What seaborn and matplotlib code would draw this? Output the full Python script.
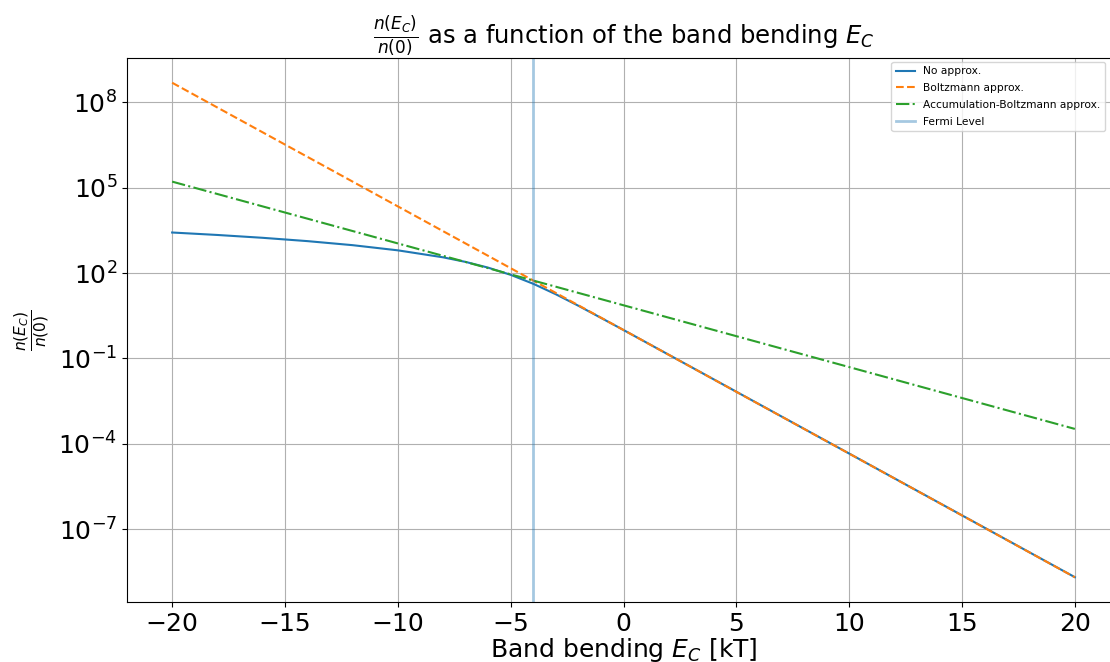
import matplotlib
matplotlib.use("Agg")
import matplotlib.pyplot as plt
import seaborn as sns
import numpy as np
import pandas as pd

# Band bending values (kT) and read-off ratios n(E_C)/n(0)
e_no_approx = [-20, -18, -16, -14, -12, -10, -8, -7, -6, -5, -4, -3, -2, -1, 0, 5, 10, 15, 20]
n_no_approx = [2658, 2179, 1733, 1323, 953.4, 628.4, 357.7, 246.6, 155.2, 86.58, 42.04,
               18.01, 7.105, 2.674, 1.0, 6.782e-3, 4.569e-5, 3.079e-7, 2.074e-9]

e_boltz = [-20, -10, 0, 10, 20]
n_boltz = [4.85e8, 2.20e4, 1.0, 4.54e-5, 2.06e-9]

e_accum = [-20, -10, 0, 10, 20]
n_accum = [1.63e5, 1.10e3, 7.39, 4.98e-2, 3.35e-4]

fermi_level = -4

x_ticks = [-20, -15, -10, -5, 0, 5, 10, 15, 20]

fig = plt.figure(figsize=(11.10, 6.62), dpi=100)
ax = fig.add_axes([127/1110, (662-602)/662, (1120-127)/1110, (602-58)/662])

df_no = pd.DataFrame({"E": e_no_approx, "n": n_no_approx})
df_b = pd.DataFrame({"E": e_boltz, "n": n_boltz})
df_a = pd.DataFrame({"E": e_accum, "n": n_accum})

sns.lineplot(data=df_no, x="E", y="n", ax=ax, color="C0", lw=1.5, label="No approx.")
sns.lineplot(data=df_b, x="E", y="n", ax=ax, color="C1", lw=1.5, linestyle="--", label="Boltzmann approx.")
sns.lineplot(data=df_a, x="E", y="n", ax=ax, color="C2", lw=1.5, linestyle="-.", label="Accumulation-Boltzmann approx.")
ax.axvline(fermi_level, color="C0", alpha=0.4, lw=2, label="Fermi Level")

ax.set_yscale("log")
ax.set_xticks(x_ticks)
ax.grid(True, color="#b0b0b0", lw=0.8)
ax.tick_params(labelsize=18)
ax.set_xlabel(r"Band bending $E_C$ [kT]", fontsize=18, labelpad=0)
ax.set_ylabel(r"$\frac{n(E_C)}{n(0)}$", fontsize=16)
ax.set_title(r"$\frac{n(E_C)}{n(0)}$ as a function of the band bending $E_C$", fontsize=17.5, pad=4)

ax.legend(loc="upper right", bbox_to_anchor=(1105/1110, 1 - 62/662),
          bbox_transform=fig.transFigure, borderaxespad=0, fontsize=7.7,
          handlelength=1.8, labelspacing=0.65)

fig.savefig("out.png", dpi=100)
